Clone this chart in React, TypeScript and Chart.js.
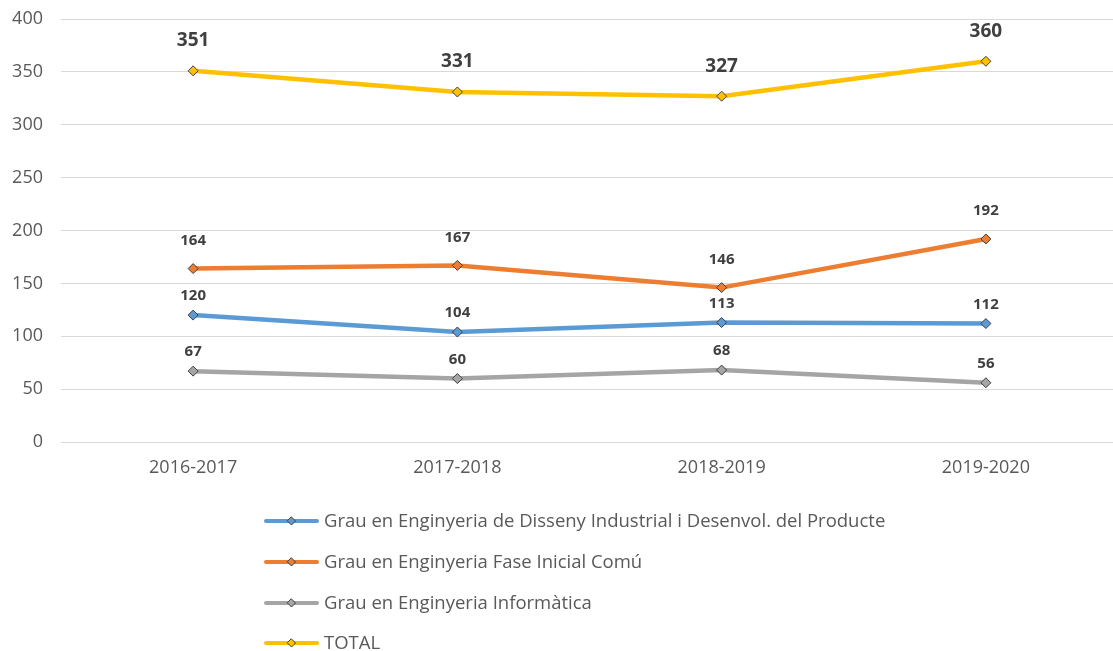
import React, { useEffect, useRef } from "react";
import { Chart, registerables } from "chart.js";

Chart.register(...registerables);

const categories = ["2016-2017", "2017-2018", "2018-2019", "2019-2020"];
const disseny = [120, 104, 113, 112];
const faseInicial = [164, 167, 146, 192];
const informatica = [67, 60, 68, 56];
const total = [351, 331, 327, 360];
const yTicks = [0, 50, 100, 150, 200, 250, 300, 350, 400];

const seriesNames = [
  "Grau en Enginyeria de Disseny Industrial i Desenvol. del Producte",
  "Grau en Enginyeria Fase Inicial Comú",
  "Grau en Enginyeria Informàtica",
  "TOTAL",
];
const seriesColors = ["#5B9BD5", "#ED7D31", "#A5A5A5", "#FFC000"];
const labelOffsets = [19, 28, 19, 30];
const labelSizes = [15, 15, 15, 19];

const FONT = "'Open Sans', 'Noto Sans', sans-serif";
const TEXT = "#595959";

function drawDiamond(ctx: CanvasRenderingContext2D, x: number, y: number, r: number, fill: string) {
  ctx.beginPath();
  ctx.moveTo(x, y - r);
  ctx.lineTo(x + r, y);
  ctx.lineTo(x, y + r);
  ctx.lineTo(x - r, y);
  ctx.closePath();
  ctx.fillStyle = fill;
  ctx.fill();
  ctx.lineWidth = 1;
  ctx.strokeStyle = "#404040";
  ctx.stroke();
}

const dataLabelsPlugin = {
  id: "dataLabelsCustom",
  afterDatasetsDraw(chart: any) {
    const ctx = chart.ctx;
    ctx.save();
    chart.data.datasets.forEach((ds: any, di: number) => {
      const meta = chart.getDatasetMeta(di);
      ctx.font = `bold ${labelSizes[di]}px ${FONT}`;
      ctx.fillStyle = "#404040";
      ctx.textAlign = "center";
      ctx.textBaseline = "middle";
      meta.data.forEach((pt: any, i: number) => {
        ctx.fillText(String(ds.data[i]), pt.x, pt.y - labelOffsets[di]);
      });
    });
    ctx.restore();
  },
};

const legendPlugin = {
  id: "stackedLegend",
  afterDraw(chart: any) {
    const ctx = chart.ctx;
    ctx.save();
    const rows = [521, 562, 603, 643];
    seriesNames.forEach((name, i) => {
      const y = rows[i];
      ctx.strokeStyle = seriesColors[i];
      ctx.lineWidth = 4;
      ctx.lineCap = "round";
      ctx.beginPath();
      ctx.moveTo(266, y);
      ctx.lineTo(317, y);
      ctx.stroke();
      drawDiamond(ctx, 291.5, y, 4, seriesColors[i]);
      ctx.font = `18.5px ${FONT}`;
      ctx.fillStyle = TEXT;
      ctx.textAlign = "left";
      ctx.textBaseline = "middle";
      ctx.fillText(name, 324, y + 1);
    });
    ctx.restore();
  },
};

export default function App() {
  const ref = useRef<HTMLCanvasElement | null>(null);
  useEffect(() => {
    document.body.style.margin = "0";
    document.body.style.overflow = "hidden";
    const values = [disseny, faseInicial, informatica, total];
    const chart = new Chart(ref.current as HTMLCanvasElement, {
      type: "line",
      data: {
        labels: categories,
        datasets: values.map((v, i) => ({
          label: seriesNames[i],
          data: v,
          borderColor: seriesColors[i],
          backgroundColor: seriesColors[i],
          borderWidth: 4.5,
          tension: 0,
          pointStyle: "rectRot",
          pointRadius: 5,
          pointBackgroundColor: seriesColors[i],
          pointBorderColor: "#404040",
          pointBorderWidth: 1,
        })),
      },
      options: {
        animation: false,
        responsive: false,
        devicePixelRatio: 1,
        layout: { padding: { top: 19, right: 0, left: 0, bottom: 0 } },
        plugins: { legend: { display: false }, tooltip: { enabled: false } },
        scales: {
          x: {
            offset: true,
            grid: { display: false, drawTicks: false },
            border: { display: false },
            ticks: { color: TEXT, font: { family: FONT, size: 18 }, padding: 15 },
            afterFit: (s: any) => {
              s.height = 209;
              s.paddingLeft = 0;
              s.paddingRight = 0;
            },
          },
          y: {
            min: 0,
            max: 400,
            afterBuildTicks: (s: any) => {
              s.ticks = yTicks.map((v) => ({ value: v }));
            },
            grid: { color: "#D9D9D9", lineWidth: 1, drawTicks: false },
            border: { display: false },
            ticks: { color: TEXT, font: { family: FONT, size: 18 }, padding: 18 },
            afterFit: (s: any) => {
              s.width = 61;
              s.paddingTop = 0;
              s.paddingBottom = 0;
            },
          },
        },
      },
      plugins: [dataLabelsPlugin, legendPlugin],
    });
    return () => chart.destroy();
  }, []);
  return <canvas ref={ref} width={1124} height={651} style={{ display: "block" }} />;
}
